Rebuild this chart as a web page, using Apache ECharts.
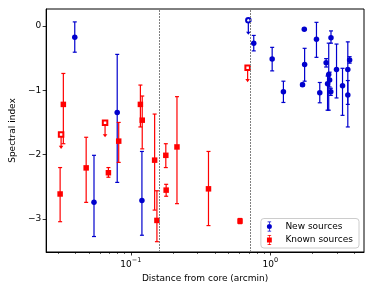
<!DOCTYPE html>
<html>
<head>
<meta charset="utf-8">
<script src="https://cdn.jsdelivr.net/npm/echarts@6/dist/echarts.min.js"></script>
<style>html,body{margin:0;padding:0;background:#fff}#c{width:374px;height:288px}</style>
</head>
<body>
<div id="c"></div>
<script>
// New sources (detections): distance, spectral index, lower and upper error bounds
const newX  = [0.0396, 0.0798, 0.0544, 0.120, 0.760, 1.03, 1.24, 1.70, 1.75, 1.76, 2.14, 2.26, 2.51, 2.62, 2.66, 2.57, 2.71, 2.72, 2.98, 3.29, 3.59, 3.59, 3.70];
const newY  = [-0.18, -1.345, -2.74, -2.71, -0.27, -0.517, -1.025, -0.916, -0.056, -0.60, -0.21, -1.04, -0.575, -0.755, -0.84, -0.90, -1.025, -0.186, -0.68, -0.93, -0.68, -1.076, -0.53];
const newLo = [-0.41, -2.43, -3.27, -3.25, -0.39, -0.70, -1.19, -0.94, -0.07, -0.86, -0.49, -1.195, -0.64, -1.31, -0.95, -1.31, -1.08, -0.27, -1.12, -1.39, -1.57, -1.22, -0.58];
const newHi = [0.06, -0.444, -2.01, -1.95, -0.15, -0.335, -0.86, -0.89, -0.04, -0.35, 0.053, -0.88, -0.51, -0.27, -0.72, -0.78, -0.97, -0.08, -0.284, -0.66, -0.25, -0.85, -0.48];
// New sources upper limits
const newLimX = [0.695];
const newLimY = [0.084];

// Known sources (detections)
const knownX  = [0.0328, 0.0311, 0.0478, 0.069, 0.0818, 0.117, 0.1206, 0.148, 0.1537, 0.178, 0.179, 0.214, 0.36, 0.606];
const knownY  = [-1.22, -2.61, -2.205, -2.28, -1.79, -1.22, -1.465, -2.085, -3.02, -2.01, -2.55, -1.88, -2.53, -3.03];
const knownLo = [-1.83, -3.04, -2.74, -2.35, -2.12, -1.57, -1.91, -2.86, -3.35, -2.20, -2.645, -2.76, -3.10, -3.07];
const knownHi = [-0.74, -2.20, -1.73, -2.20, -1.50, -0.92, -1.09, -1.37, -2.56, -1.83, -2.46, -1.10, -1.95, -2.99];
// Known sources upper limits
const knownLimX = [0.0316, 0.0653, 0.687];
const knownLimY = [-1.686, -1.506, -0.65];

// Reference radii (dotted lines)
const refLines = [0.160, 0.724];

// Axis ticks
const yTicks = [0, -1, -2, -3];
const xMajor = [0.1, 1];
const xMinor = [0.03,0.04,0.05,0.06,0.07,0.08,0.09,0.2,0.3,0.4,0.5,0.6,0.7,0.8,0.9,2,3,4];

const BLUE = '#0000cd', RED = '#ff0000';
const FONT = 'DejaVu Sans';

function errRender(params, api) {
  const x = api.value(0), lo = api.value(1), hi = api.value(2);
  const p1 = api.coord([x, lo]), p2 = api.coord([x, hi]);
  const c = api.visual('color');
  const w = 2;
  const st = {stroke: c, lineWidth: 1.2};
  return {type: 'group', children: [
    {type: 'line', shape: {x1: p1[0], y1: p1[1], x2: p2[0], y2: p2[1]}, style: st},
    {type: 'line', shape: {x1: p1[0]-w, y1: p1[1], x2: p1[0]+w, y2: p1[1]}, style: st},
    {type: 'line', shape: {x1: p2[0]-w, y1: p2[1], x2: p2[0]+w, y2: p2[1]}, style: st}
  ]};
}
function limRender(params, api) {
  const p = api.coord([api.value(0), api.value(1)]);
  const c = api.visual('color');
  const L = 14.5;
  const yb = p[1] + L;
  return {type: 'group', children: [
    {type: 'line', shape: {x1: p[0], y1: p[1], x2: p[0], y2: yb - 2}, style: {stroke: c, lineWidth: 1.2}},
    {type: 'polygon', shape: {points: [[p[0]-2.3, yb-3.2], [p[0]+2.3, yb-3.2], [p[0], yb]]}, style: {fill: c}}
  ]};
}

const iconNew = 'path://M4.5,0h1v14h-1Z M2.5,0h5v1h-5Z M2.5,13h5v1h-5Z M8.5,7A3.5,3.5,0,1,1,1.5,7A3.5,3.5,0,1,1,8.5,7Z';
const iconKnown = 'path://M4.5,0h1v14h-1Z M2.5,0h5v1h-5Z M2.5,13h5v1h-5Z M1.6,3.6h6.8v6.8h-6.8Z';

const chart = echarts.init(document.getElementById('c'), null, {renderer: 'canvas'});
const axisCommon = {
  type: 'log', logBase: 10, min: 0.0247, max: 4.69, gridIndex: 0
};
chart.setOption({
  animation: false,
  backgroundColor: '#fff',
  textStyle: {fontFamily: FONT},
  grid: {left: 39, right: 10, top: 9, bottom: 36, show: true, borderColor: '#000', borderWidth: 1, backgroundColor: 'transparent'},
  xAxis: [
    Object.assign({}, axisCommon, {
      position: 'bottom',
      name: 'Distance from core (arcmin)', nameLocation: 'middle', nameGap: 19,
      nameTextStyle: {fontFamily: FONT, fontSize: 9, color: '#000'},
      axisLine: {show: true, onZero: false, lineStyle: {color: '#000', width: 1}},
      axisTick: {show: true, inside: false, length: 3.5, lineStyle: {color: '#000', width: 0.8}, customValues: xMajor},
      axisLabel: {
        show: true, margin: 5, customValues: xMajor, color: '#000', fontFamily: FONT, fontSize: 9,
        formatter: function (v) { const e = Math.round(Math.log10(v)); return '{b|10}{s|' + (e < 0 ? '\u2212' + (-e) : e) + '}'; },
        rich: {b: {fontSize: 9, fontFamily: FONT, color: '#000', verticalAlign: 'bottom'}, s: {fontSize: 6.5, fontFamily: FONT, color: '#000', padding: [0, 0, 5, 0], verticalAlign: 'bottom'}}
      },
      splitLine: {show: false}, minorTick: {show: false}, minorSplitLine: {show: false}
    }),
    Object.assign({}, axisCommon, {
      position: 'bottom',
      axisLine: {show: false, onZero: false},
      axisTick: {show: true, inside: false, length: 2, lineStyle: {color: '#000', width: 0.6}, customValues: xMinor},
      axisLabel: {show: false},
      splitLine: {show: false}
    })
  ],
  yAxis: {
    type: 'value', min: -3.51, max: 0.26,
    name: 'Spectral index', nameLocation: 'middle', nameGap: 24,
    nameTextStyle: {fontFamily: FONT, fontSize: 9, color: '#000'},
    axisLine: {show: true, onZero: false, lineStyle: {color: '#000', width: 1}},
    axisTick: {show: true, inside: false, length: 3.5, lineStyle: {color: '#000', width: 0.8}, customValues: yTicks},
    axisLabel: {
      show: true, margin: 5, customValues: yTicks, color: '#000', fontFamily: FONT, fontSize: 9,
      formatter: function (v) { return v < 0 ? '\u2212' + Math.abs(v) : String(v); }
    },
    splitLine: {show: false}
  },
  legend: {
    orient: 'vertical', right: 15, bottom: 40,
    backgroundColor: 'rgba(255,255,255,0.8)', borderColor: '#cccccc', borderWidth: 1, borderRadius: 3,
    padding: [3, 6, 3, 6], itemGap: 3.5, itemWidth: 14, itemHeight: 10,
    textStyle: {fontFamily: FONT, fontSize: 9, color: '#000', padding: [0, 0, 0, 4]},
    data: [{name: 'New sources', icon: iconNew}, {name: 'Known sources', icon: iconKnown}]
  },
  series: [
    {
      type: 'line', name: 'refs', data: [], xAxisIndex: 0, silent: true,
      markLine: {
        silent: true, symbol: 'none', label: {show: false}, animation: false,
        lineStyle: {color: '#808080', type: [2, 1], width: 1},
        data: refLines.map(v => ({xAxis: v}))
      }
    },
    {
      type: 'custom', name: 'newErr', renderItem: errRender, itemStyle: {color: BLUE},
      encode: {x: 0, y: [1, 2]}, z: 2,
      data: newX.map((x, i) => [x, newLo[i], newHi[i]])
    },
    {
      type: 'custom', name: 'knownErr', renderItem: errRender, itemStyle: {color: RED},
      encode: {x: 0, y: [1, 2]}, z: 2,
      data: knownX.map((x, i) => [x, knownLo[i], knownHi[i]])
    },
    {
      type: 'custom', name: 'newLimArrow', renderItem: limRender, itemStyle: {color: BLUE},
      encode: {x: 0, y: 1}, z: 2,
      data: newLimX.map((x, i) => [x, newLimY[i]])
    },
    {
      type: 'custom', name: 'knownLimArrow', renderItem: limRender, itemStyle: {color: RED},
      encode: {x: 0, y: 1}, z: 2,
      data: knownLimX.map((x, i) => [x, knownLimY[i]])
    },
    {
      type: 'scatter', name: 'New sources', symbol: 'circle', symbolSize: 5.5, z: 3,
      itemStyle: {color: BLUE, opacity: 1},
      data: newX.map((x, i) => [x, newY[i]])
    },
    {
      type: 'scatter', name: 'Known sources', symbol: 'rect', symbolSize: 5.5, z: 3,
      itemStyle: {color: RED, opacity: 1},
      data: knownX.map((x, i) => [x, knownY[i]])
    },
    {
      type: 'scatter', name: 'newLim', symbol: 'emptyCircle', symbolSize: 4.5, z: 4,
      itemStyle: {color: BLUE, borderColor: BLUE, borderWidth: 1, opacity: 1},
      data: newLimX.map((x, i) => [x, newLimY[i]])
    },
    {
      type: 'scatter', name: 'knownLim', symbol: 'emptyRect', symbolSize: 4.5, z: 4,
      itemStyle: {color: RED, borderColor: RED, borderWidth: 1, opacity: 1},
      data: knownLimX.map((x, i) => [x, knownLimY[i]])
    }
  ]
});
</script>
</body>
</html>
